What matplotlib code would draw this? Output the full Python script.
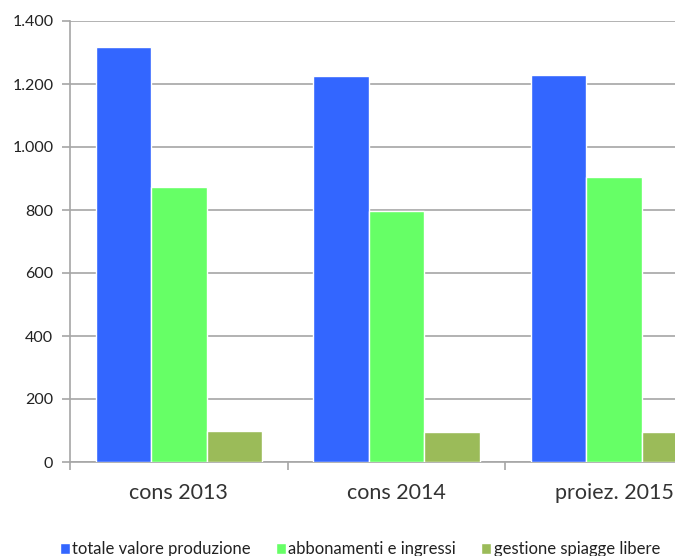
import matplotlib
matplotlib.use("Agg")
import matplotlib.pyplot as plt
import numpy as np
from matplotlib.ticker import FuncFormatter

# dati
categorie = ["cons 2013", "cons 2014", "proiez. 2015"]
serie = ["totale valore produzione", "abbonamenti e ingressi", "gestione spiagge libere"]
totale = [1317, 1225, 1229]
abbonamenti = [873, 797, 905]
spiagge = [98, 95, 95]
colori = ["#3366FF", "#66FF66", "#9BBB59"]

plt.rcParams['font.family'] = ['Lato', 'DejaVu Sans']

fig = plt.figure(figsize=(6.75, 5.56), dpi=100)
# l'area del grafico esce dal bordo destro (come nell'originale)
ax = fig.add_axes([70/675, 94/556, 653/675, 441/556])

x = np.arange(len(categorie))
w = 0.255
for i, (vals, col, nome) in enumerate(zip([totale, abbonamenti, spiagge], colori, serie)):
    ax.bar(x + (i - 1) * w, vals, width=w, color=col, edgecolor="white",
           linewidth=1, label=nome, zorder=3)

ax.set_xlim(-0.5, 2.5)
ax.set_ylim(0, 1400)
ax.set_yticks(range(0, 1401, 200))
ax.yaxis.set_major_formatter(FuncFormatter(lambda v, p: f"{int(v):,}".replace(",", ".")))
ax.grid(axis="y", color="#A6A6A6", linewidth=1.2, zorder=0)

ax.set_xticks([-0.5, 0.5, 1.5, 2.5])
ax.set_xticklabels([])
ax.set_xticks(x, minor=True)
ax.set_xticklabels(categorie, minor=True, fontsize=15.5, color="#333333")
ax.tick_params(axis="x", which="minor", length=0, pad=15)
ax.tick_params(axis="x", which="major", length=6, color="#A6A6A6", width=1.2)
ax.tick_params(axis="y", length=6, color="#A6A6A6", width=1.2, labelsize=11.5,
               labelcolor="#222222", pad=6)

for s in ["top", "right"]:
    ax.spines[s].set_visible(False)
for s in ["left", "bottom"]:
    ax.spines[s].set_color("#A6A6A6")
    ax.spines[s].set_linewidth(1.2)

fig.legend(loc="center", bbox_to_anchor=(0.533, 0.012), ncol=3, frameon=False,
           fontsize=12, handlelength=0.6, handleheight=0.6, handletextpad=0.15,
           columnspacing=1.5, labelcolor="#222222")

fig.savefig("out.png", dpi=100)
